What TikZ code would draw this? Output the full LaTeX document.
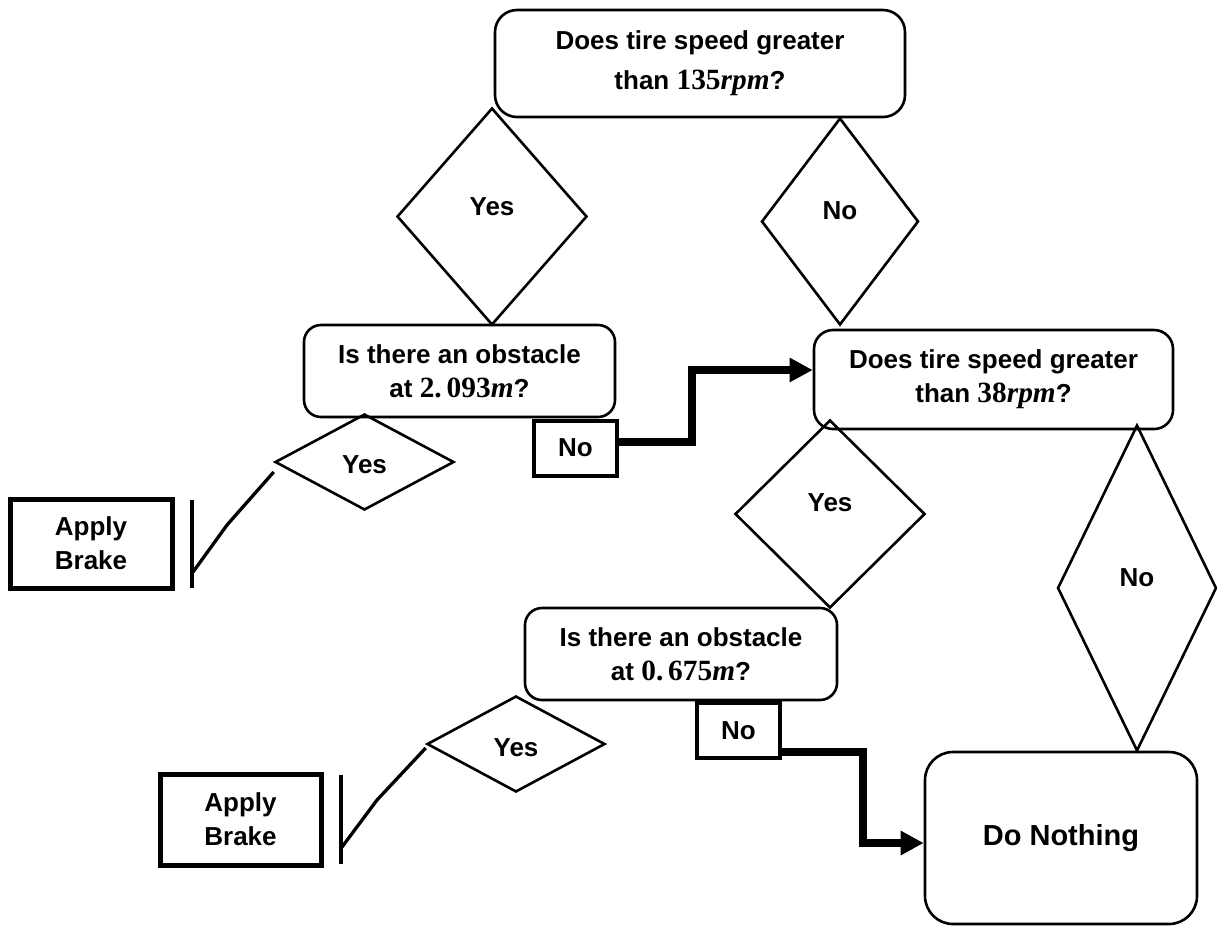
\documentclass[tikz,border=0pt]{standalone}
\usepackage{fontspec}
\setmainfont{Liberation Sans}
\newfontfamily\mser[Scale=1.13]{Liberation Serif}
\usetikzlibrary{shapes.geometric,arrows.meta}
\begin{document}
\begin{tikzpicture}[x=1pt,y=-1pt,
  txt/.style={font=\fontsize{26}{34}\selectfont\bfseries, align=center},
  qbox/.style={draw, line width=2.6pt, rounded corners=17pt, inner sep=0pt, txt},
  dia/.style={draw, diamond, line width=2.6pt, inner sep=0pt},
  lbl/.style={font=\fontsize{26}{34}\selectfont\bfseries},
  nobox/.style={draw, line width=4pt, inner sep=0pt, txt, minimum width=83pt, minimum height=55pt},
  brakebox/.style={draw, line width=5pt, inner sep=0pt, txt},
  bigarrow/.style={line width=7.5pt, -{Triangle[length=23pt,width=23pt]}},
  link/.style={line width=3.3pt},
  bar/.style={line width=4pt}]
\useasboundingbox (0,0) rectangle (1217,930);

% question boxes
\node[qbox, rounded corners=22pt, minimum width=410pt, minimum height=107pt,
      font=\fontsize{26}{40}\selectfont\bfseries] (q1) at (700,63.5)
  {Does tire speed greater\\than {\mser 135\textit{rpm}}?};
\node[qbox, minimum width=311pt, minimum height=92pt] (q2) at (459.5,371)
  {Is there an obstacle\\at {\mser 2.\,093\textit{m}}?};
\node[qbox, rounded corners=19pt, minimum width=359pt, minimum height=99pt] (q3) at (993.5,379.5)
  {Does tire speed greater\\than {\mser 38\textit{rpm}}?};
\node[qbox, minimum width=312pt, minimum height=92pt] (q4) at (681,654)
  {Is there an obstacle\\at {\mser 0.\,675\textit{m}}?};
\node[qbox, rounded corners=28pt, minimum width=272pt, minimum height=172pt,
      font=\fontsize{29}{34}\selectfont\bfseries] (dn) at (1061,838) {Do Nothing};

% decision diamonds
\node[dia, minimum width=190pt, minimum height=217pt, label={[lbl,yshift=9.5pt]center:Yes}] (d1) at (492,216.5) {};
\node[dia, minimum width=157pt, minimum height=207pt, label={[lbl,yshift=11pt]center:No}] (d2) at (840,221.5) {};
\node[dia, minimum width=179pt, minimum height=96pt, label={[lbl,yshift=-3pt]center:Yes}] (d3) at (364.5,462) {};
\node[dia, minimum width=190pt, minimum height=188pt, label={[lbl,yshift=11pt]center:Yes}] (d4) at (830,514) {};
\node[dia, minimum width=159pt, minimum height=326pt, label={[lbl,yshift=10pt]center:No}] (d5) at (1137,588) {};
\node[dia, minimum width=178pt, minimum height=96pt, label={[lbl,yshift=-4pt]center:Yes}] (d6) at (516,744) {};

% No boxes
\node[nobox] (n1) at (575.5,448) {No};
\node[nobox] (n2) at (738.5,730.5) {No};

% Apply Brake boxes
\node[brakebox, minimum width=162pt, minimum height=89pt] (ab1) at (91,543.5) {Apply\\Brake};
\node[brakebox, minimum width=161pt, minimum height=91pt] (ab2) at (240.5,819.5) {Apply\\Brake};

% bars beside Apply Brake
\coordinate (v1t) at (192,500);
\coordinate (v1b) at (192,588);
\coordinate (v2t) at (341,775);
\coordinate (v2b) at (341,864);
\draw[bar] (v1t) -- (v1b);
\draw[bar] (v2t) -- (v2b);

% Yes links
\coordinate (c1m) at (227,525);
\coordinate (c1e) at (193,572);
\draw[link] ([yshift=-10pt]d3.west) -- (c1m) -- (c1e);
\coordinate (c2m) at (377,800);
\coordinate (c2e) at (342,847);
\draw[link] ([yshift=-4pt]d6.west) -- (c2m) -- (c2e);

% No arrows
\coordinate (k1) at (692,370);
\draw[bigarrow] ([yshift=6pt]n1.east) -| (k1) -- ([yshift=9.5pt]q3.west);
\coordinate (k2) at (863,843);
\draw[bigarrow] ([yshift=-21.5pt]n2.east) -| (k2) -- ([yshift=-5pt]dn.west);
\end{tikzpicture}
\end{document}
